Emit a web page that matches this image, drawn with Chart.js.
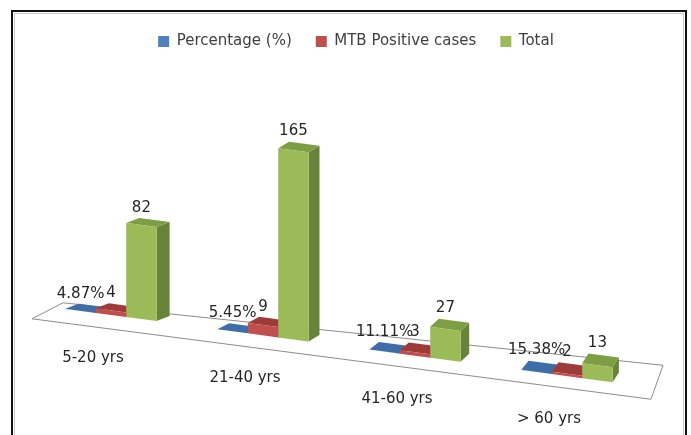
<!DOCTYPE html>
<html>
<head>
<meta charset="utf-8">
<script src="https://cdn.jsdelivr.net/npm/chart.js@4.4.0/dist/chart.umd.min.js"></script>
<style>
    html, body { margin: 0; padding: 0; background: #fff; }
    #wrap { width: 691px; height: 435px; }
</style>
</head>
<body>
<div id="wrap"><canvas id="chart1" width="691" height="435"></canvas></div>
<script>
// Data
const ageGroups = ["5-20 yrs", "21-40 yrs", "41-60 yrs", "> 60 yrs"];
const percentage = [4.87, 5.45, 11.11, 15.38];
const mtbPositive = [4, 9, 3, 2];
const totalCases = [82, 165, 27, 13];

// Fake 3D projection: shear the plot so the floor runs down to the right
const SHEAR = 0.134;
const SHIFT = -17;
const XREF = 143;
const project = (x, y) => [x + SHIFT, y + SHEAR * (x - XREF)];

// front, top, side colours per series
const faces = [
    ["#4F81BD", "#3E6DA8", "#2F5585"],
    ["#C0504D", "#9E3B38", "#8B2F2C"],
    ["#9BBB59", "#7E9E43", "#67843A"]
];

function depthAt(x) {
    let t = Math.min(1, Math.max(0, (x - 140) / 460));
    return [13 - 7 * t, -5 - 5 * t];
}

function poly(ctx, pts, color) {
    ctx.beginPath();
    ctx.moveTo(pts[0][0], pts[0][1]);
    for (let i = 1; i < pts.length; i++) ctx.lineTo(pts[i][0], pts[i][1]);
    ctx.closePath();
    ctx.fillStyle = color;
    ctx.fill();
}

const threeD = {
    id: "threeD",
    beforeDraw(chart) {
        const ctx = chart.ctx;
        ctx.save();
        ctx.strokeStyle = "#111";
        ctx.lineWidth = 2;
        ctx.strokeRect(12, 11, 674, 440);
        ctx.strokeStyle = "#c8c8c8";
        ctx.lineWidth = 1;
        ctx.strokeRect(14.5, 13.5, 669, 440);
        ctx.restore();
    },
    beforeDatasetsDraw(chart) {
        const ctx = chart.ctx;
        const area = chart.chartArea;
        // floor
        const fl = project(area.left, area.bottom);
        const fr = project(area.right, area.bottom);
        const frontLeft = [fl[0] - 3, fl[1] + 14];
        const frontRight = [fr[0] + 8, fr[1] + 13];
        const backRight = [frontRight[0] + 12, frontRight[1] - 34];
        const backLeft = [frontLeft[0] + 31, frontLeft[1] - 16];
        ctx.save();
        ctx.beginPath();
        ctx.moveTo(frontLeft[0], frontLeft[1]);
        ctx.lineTo(backLeft[0], backLeft[1]);
        ctx.lineTo(backRight[0], backRight[1]);
        ctx.lineTo(frontRight[0], frontRight[1]);
        ctx.closePath();
        ctx.fillStyle = "#fff";
        ctx.fill();
        ctx.strokeStyle = "#8c8c8c";
        ctx.lineWidth = 1;
        ctx.stroke();

        // top and side faces, drawn before the fronts
        chart.data.datasets.forEach((ds, di) => {
            chart.getDatasetMeta(di).data.forEach(bar => {
                const p = bar.getProps(["x", "y", "base", "width"], true);
                const xl = p.x - p.width / 2, xr = p.x + p.width / 2;
                const tl = project(xl, p.y), tr = project(xr, p.y), br = project(xr, p.base);
                const d = depthAt(tl[0]);
                poly(ctx, [tr, [tr[0] + d[0], tr[1] + d[1]], [br[0] + d[0], br[1] + d[1]], br], faces[di][2]);
                poly(ctx, [tl, tr, [tr[0] + d[0], tr[1] + d[1]], [tl[0] + d[0], tl[1] + d[1]]], faces[di][1]);
            });
        });
        ctx.save();
        ctx.transform(1, SHEAR, 0, 1, SHIFT, -SHEAR * XREF);
    },
    afterDatasetsDraw(chart) {
        const ctx = chart.ctx;
        ctx.restore();
        ctx.restore();
        ctx.save();
        ctx.font = "15px 'DejaVu Sans'";
        ctx.fillStyle = "#262626";
        ctx.textAlign = "center";
        ctx.textBaseline = "middle";
        // data labels
        chart.data.datasets.forEach((ds, di) => {
            chart.getDatasetMeta(di).data.forEach((bar, i) => {
                const p = bar.getProps(["x", "y", "width"], true);
                const top = project(p.x, p.y);
                const d = depthAt(top[0]);
                const text = di === 0 ? percentage[i] + "%" : String(ds.data[i]);
                ctx.fillText(text, top[0], top[1] + d[1] - 12);
            });
        });
        // category labels under the floor
        const xs = chart.scales.x;
        ageGroups.forEach((g, i) => {
            const c = project(xs.getPixelForValue(i), chart.chartArea.bottom);
            ctx.fillText(g, c[0] - 18, c[1] + 43);
        });
        ctx.restore();
    }
};

new Chart(document.getElementById("chart1"), {
    type: "bar",
    data: {
        labels: ageGroups,
        datasets: [
            { label: "Percentage (%)", data: percentage.map(v => v / 100), backgroundColor: faces[0][0] },
            { label: "MTB Positive cases", data: mtbPositive, backgroundColor: faces[1][0] },
            { label: "Total", data: totalCases, backgroundColor: faces[2][0] }
        ]
    },
    options: {
        responsive: false,
        animation: false,
        devicePixelRatio: 1,
        layout: { padding: { top: 10, left: 52, right: 31, bottom: 118 } },
        categoryPercentage: 0.6,
        barPercentage: 1.0,
        datasets: { bar: { clip: false, borderWidth: 0 } },
        scales: {
            x: { display: false },
            y: { display: false, min: 0, max: 225 }
        },
        plugins: {
            legend: {
                position: "top",
                labels: {
                    boxWidth: 11,
                    boxHeight: 11,
                    padding: 24,
                    color: "#404040",
                    font: { family: "'DejaVu Sans'", size: 15 }
                }
            },
            tooltip: { enabled: false }
        }
    },
    plugins: [threeD]
});
</script>
</body>
</html>
